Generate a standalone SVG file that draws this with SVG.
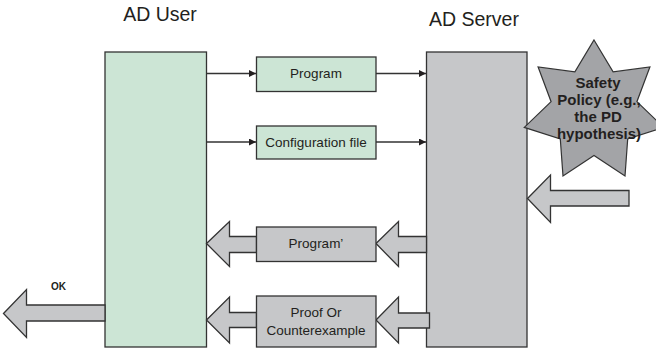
<svg xmlns="http://www.w3.org/2000/svg" width="656" height="350" viewBox="0 0 656 350">
  <style>
    .title { font-family: "Liberation Sans", Arial, sans-serif; font-size: 19.5px; fill: #231f20; text-anchor: middle; }
    .lbl { font-family: "Liberation Sans", Arial, sans-serif; font-size: 13.5px; fill: #231f20; text-anchor: middle; }
    .bold { font-family: "Liberation Sans", Arial, sans-serif; font-weight: bold; fill: #231f20; text-anchor: middle; }
    .green { fill: #cce5d5; stroke: #333333; stroke-width: 1.3; }
    .grey { fill: #c6c7c9; stroke: #333333; stroke-width: 1.3; }
    .star { fill: #a3a4a7; stroke: #333333; stroke-width: 1.2; }
    .wire { fill: none; stroke: #333333; stroke-width: 1.3; }
    .fat { fill: #c6c7c9; stroke: #333333; stroke-width: 1.3; stroke-linejoin: miter; }
  </style>
  <defs>
    <marker id="head" viewBox="0 0 10 10" refX="10" refY="5" markerWidth="7" markerHeight="7" markerUnits="userSpaceOnUse" orient="auto">
      <path d="M0,0 L10,5 L0,10 z" fill="#231f20"/>
    </marker>
  </defs>

  <rect width="656" height="350" fill="#ffffff"/>

  <text class="title" x="160" y="21">AD User</text>
  <text class="title" x="474" y="25.5">AD Server</text>

  <g id="ad-user">
    <rect class="green" x="105" y="52" width="101.5" height="295"/>
  </g>

  <g id="ad-server">
    <rect class="grey" x="426.5" y="52" width="100.5" height="295"/>
  </g>

  <g id="connectors">
    <line class="wire" x1="206.5" y1="73.5" x2="256" y2="73.5" marker-end="url(#head)"/>
    <line class="wire" x1="376" y1="73.5" x2="426" y2="73.5" marker-end="url(#head)"/>
    <line class="wire" x1="206.5" y1="142" x2="256" y2="142" marker-end="url(#head)"/>
    <line class="wire" x1="376" y1="142" x2="426" y2="142" marker-end="url(#head)"/>
    <!-- block arrows back to the user -->
    <path class="fat" d="M206.5,243.5 L229.5,221.5 L229.5,236.5 L256.5,236.5 L256.5,252.5 L229.5,252.5 L229.5,266.5 Z"/>
    <path class="fat" d="M376,243.5 L398.5,221.5 L398.5,236.5 L426.5,236.5 L426.5,252.5 L398.5,252.5 L398.5,266.5 Z"/>
    <path class="fat" d="M206.5,320 L229.5,297 L229.5,312.5 L256.5,312.5 L256.5,327.5 L229.5,327.5 L229.5,343 Z"/>
    <path class="fat" d="M376,320 L398.5,297 L398.5,313 L429.5,313 L429.5,328 L398.5,328 L398.5,343 Z"/>
    <!-- result out of the user -->
    <path class="fat" d="M3.5,313.5 L26.5,289.5 L26.5,305 L105,305 L105,321 L26.5,321 L26.5,337.5 Z"/>
    <!-- policy into the server -->
    <path class="fat" d="M527.5,198.5 L550.5,175 L550.5,190.5 L629,190.5 L629,206 L550.5,206 L550.5,222.5 Z"/>
  </g>

  <g id="program">
    <rect class="green" x="256.5" y="57" width="119.5" height="34.5"/>
    <text class="lbl" x="316" y="78">Program</text>
  </g>

  <g id="config-file">
    <rect class="green" x="256.5" y="126" width="119.5" height="33"/>
    <text class="lbl" x="316" y="147">Configuration file</text>
  </g>

  <g id="program-prime">
    <rect class="grey" x="256.5" y="227" width="119.5" height="34.5"/>
    <text class="lbl" x="316" y="248">Program’</text>
  </g>

  <g id="proof">
    <rect class="grey" x="256.5" y="296" width="119.5" height="51"/>
    <text class="lbl" x="316" y="317">Proof Or</text>
    <text class="lbl" x="316" y="335">Counterexample</text>
  </g>

  <g id="ok-label">
    <text class="bold" x="58.5" y="289.5" font-size="10">OK</text>
  </g>

  <g id="safety-policy">
    <!-- seven-point star, centre (594,111.5), outer radius 71.5, inner 44 -->
    <polygon class="star" points="594,40 613.1,71.9 649.9,66.9 636.9,101.7 663.7,127.4 627.7,138.9 625,176 594,155.5 563,176 560.3,138.9 524.3,127.4 551.1,101.7 538.1,66.9 574.9,71.9"/>
    <text class="bold" x="598" y="88" font-size="15">Safety</text>
    <text class="bold" x="599" y="105" font-size="15">Policy (e.g.,</text>
    <text class="bold" x="598" y="122" font-size="15">the PD</text>
    <text class="bold" x="599" y="139" font-size="15">hypothesis)</text>
  </g>
</svg>
